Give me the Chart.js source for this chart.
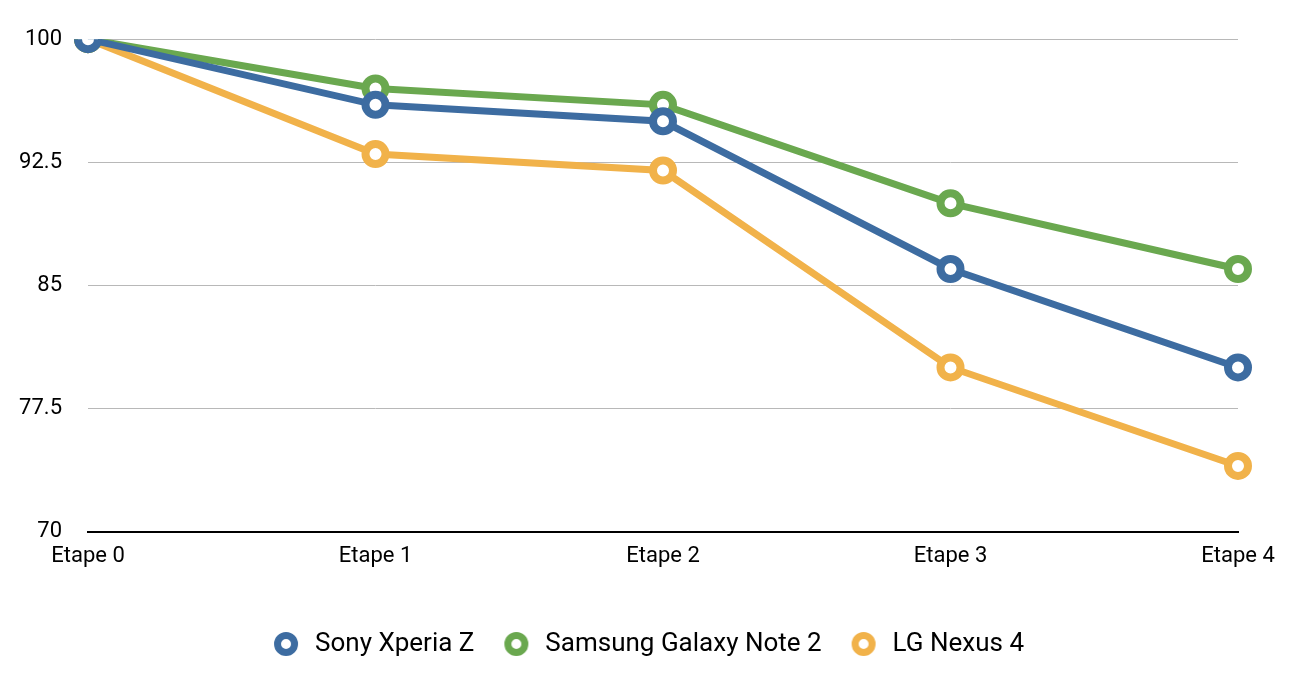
<!DOCTYPE html>
<html>
<head>
<meta charset="utf-8">
<script src="https://cdn.jsdelivr.net/npm/chart.js@4"></script>
<style>
  html, body { margin: 0; padding: 0; background: #fff; }
  #wrap { width: 1308px; height: 678px; }
</style>
</head>
<body>
<div id="wrap"><canvas id="lineChart"></canvas></div>
<script>
// Données du graphique
var etapes = ['Etape 0', 'Etape 1', 'Etape 2', 'Etape 3', 'Etape 4'];
var sony = [100, 96, 95, 86, 80];
var samsung = [100, 97, 96, 90, 86];
var nexus = [100, 93, 92, 80, 74];
var yTicks = [70, 77.5, 85, 92.5, 100];

var blue = '#3d6ca1';
var green = '#6aa84f';
var orange = '#f1b24a';

// petit cercle pour la légende
function ring(color) {
    var c = document.createElement('canvas');
    c.width = 28;
    c.height = 28;
    var g = c.getContext('2d');
    g.beginPath();
    g.arc(14, 14, 8.5, 0, 2 * Math.PI);
    g.fillStyle = '#ffffff';
    g.fill();
    g.lineWidth = 7;
    g.strokeStyle = color;
    g.stroke();
    return c;
}

function serie(label, data, color) {
    return {
        label: label,
        data: data,
        borderColor: color,
        backgroundColor: '#ffffff',
        borderWidth: 7,
        pointRadius: 10,
        pointHoverRadius: 10,
        pointBorderWidth: 8,
        pointBackgroundColor: '#ffffff',
        pointBorderColor: color,
        tension: 0
    };
}

var ctx = document.getElementById('lineChart').getContext('2d');
var chart = new Chart(ctx, {
    type: 'line',
    data: {
        labels: etapes,
        datasets: [
            serie('Sony Xperia Z', sony, blue),
            serie('Samsung Galaxy Note 2', samsung, green),
            serie('LG Nexus 4', nexus, orange)
        ]
    },
    options: {
        responsive: true,
        maintainAspectRatio: false,
        animation: false,
        layout: { padding: { top: 39, right: 14, left: 0, bottom: 11 } },
        scales: {
            x: {
                offset: false,
                afterFit: function (scale) { scale.height += 23; },
                grid: { display: false, drawTicks: false },
                border: { display: true, color: '#000000', width: 2 },
                ticks: {
                    color: '#000000',
                    padding: 12,
                    maxRotation: 0,
                    font: { family: 'Roboto', size: 22 }
                }
            },
            y: {
                min: 70,
                max: 100,
                afterFit: function (scale) { scale.width = 88; },
                afterBuildTicks: function (scale) {
                    scale.ticks = yTicks.map(function (v) { return { value: v }; });
                },
                grid: { color: '#b8b8b8', lineWidth: 1, drawTicks: false },
                border: { display: false },
                ticks: {
                    color: '#000000',
                    padding: 26,
                    font: { family: 'Roboto', size: 22 }
                }
            },
            // marge à droite (axe vide)
            yRight: {
                position: 'right',
                afterFit: function (scale) { scale.width = 56; },
                grid: { display: false, drawTicks: false },
                border: { display: false },
                ticks: { display: false }
            }
        },
        plugins: {
            legend: {
                position: 'bottom',
                labels: {
                    usePointStyle: true,
                    boxHeight: 26,
                    pointStyleWidth: 32,
                    padding: 26,
                    color: '#000000',
                    font: { family: 'Roboto', size: 26 },
                    generateLabels: function (chart) {
                        var items = Chart.defaults.plugins.legend.labels.generateLabels(chart);
                        items.forEach(function (it, i) {
                            it.pointStyle = ring(chart.data.datasets[i].borderColor);
                        });
                        return items;
                    }
                }
            },
            tooltip: { enabled: false }
        }
    }
});
</script>
</body>
</html>
